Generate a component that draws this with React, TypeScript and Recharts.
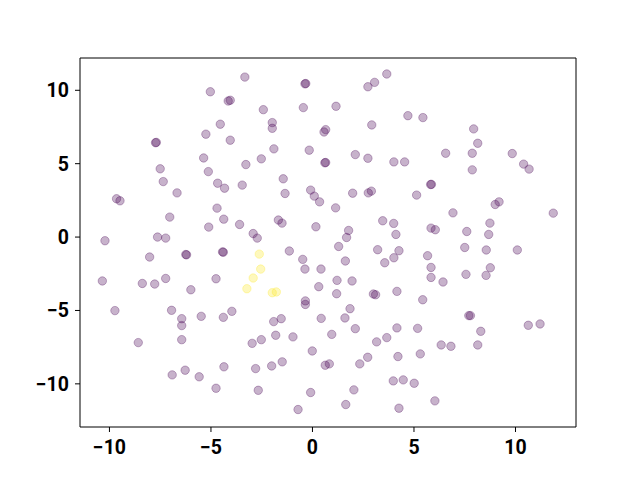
import { ScatterChart, Scatter, XAxis, YAxis, ReferenceLine } from "recharts";

// points, [x, y]
const purplePoints: [number, number][] = [
  [-3.33, 10.9], [-5.03, 9.9], [-4.15, 9.27], [-4.05, 9.32], [-4.54, 7.69], [-5.25, 7.01],
  [-4.05, 6.6], [-7.73, 6.43], [-7.69, 6.45], [-5.36, 5.39], [-3.28, 4.94], [-7.5, 4.65],
  [-5.13, 4.46], [-7.35, 3.78], [-4.67, 3.67], [-4.33, 3.33], [-3.46, 3.54], [-6.67, 3.01],
  [-9.65, 2.61], [-9.48, 2.47], [-4.7, 1.97], [-7.03, 1.36], [-4.37, 1.22], [-5.11, 0.68],
  [-3.59, 0.86], [-10.22, -0.25], [-7.63, 0], [-7.23, -0.07],
  [-0.37, 10.44], [-0.33, 10.46], [2.73, 10.24], [3.06, 10.54], [3.66, 11.11], [-2.42, 8.68],
  [-0.45, 8.82], [1.16, 8.91], [4.7, 8.27], [-1.98, 7.8], [-1.98, 7.41], [0.57, 7.16],
  [0.65, 7.32], [2.92, 7.64], [-1.9, 6.01], [-0.16, 5.92], [-2.52, 5.33], [0.61, 5.06],
  [0.65, 5.08], [2.11, 5.62], [2.73, 5.37], [4.01, 5.12], [4.54, 5.12], [-1.44, 3.97],
  [-1.35, 2.97], [-0.09, 3.2], [0.09, 2.79], [0.35, 2.4], [1.14, 1.99], [1.98, 2.99],
  [2.75, 3.01], [2.9, 3.13], [5.13, 2.86], [-1.68, 1.16], [-1.5, 0.95], [0.17, 0.7],
  [-2.92, 0.24], [-2.72, -0.07], [1.78, 0.45], [1.68, -0.03], [3.46, 1.11], [4.0, 0.93],
  [4.11, 0.18], [1.29, -0.64],
  [5.44, 8.14], [7.94, 7.37], [8.14, 6.39], [6.56, 5.71], [7.87, 5.71], [9.84, 5.69],
  [10.4, 4.97], [10.67, 4.63], [7.87, 4.58], [5.82, 3.58], [5.86, 3.59], [9.0, 2.22],
  [9.19, 2.4], [6.92, 1.65], [11.86, 1.63], [5.84, 0.61], [6.05, 0.5], [7.6, 0.38],
  [8.74, 0.95], [8.68, 0.18],
  [-8.02, -1.36], [-6.24, -1.19], [-6.2, -1.21], [-4.43, -1.01], [-4.39, -1.03], [-10.35, -2.99],
  [-8.38, -3.16], [-7.77, -3.2], [-7.23, -2.82], [-5.99, -3.59], [-4.75, -2.84], [-9.73, -5.01],
  [-6.94, -4.99], [-6.44, -5.56], [-6.44, -6.03], [-5.48, -5.4], [-4.39, -5.47], [-3.97, -5.06],
  [-8.58, -7.19], [-6.44, -6.99], [-6.91, -9.39], [-6.27, -9.07], [-5.58, -9.52], [-4.36, -8.84],
  [-4.75, -10.3],
  [-1.14, -0.95], [-0.48, -1.52], [-0.37, -2.18], [0.42, -2.18], [1.62, -1.63], [0.31, -3.38],
  [1.21, -2.95], [1.95, -2.99], [1.19, -3.86], [-0.35, -4.35], [-0.35, -4.59], [3.0, -3.88],
  [3.11, -3.93], [3.21, -0.86], [3.56, -1.75], [4.01, -1.41], [4.26, -0.93], [4.16, -3.7],
  [1.85, -4.88], [0.43, -5.54], [1.6, -5.51], [-1.91, -5.76], [-1.54, -5.56], [2.11, -6.24],
  [4.16, -6.19], [5.18, -6.22], [-2.97, -7.24], [-2.52, -6.99], [-1.81, -6.69], [-0.96, -6.8],
  [0.95, -6.63], [3.16, -7.14], [3.66, -6.85], [-0.01, -7.76], [-2.8, -8.96], [-2.01, -8.78],
  [-1.49, -8.5], [0.63, -8.73], [0.83, -8.64], [2.33, -8.64], [2.72, -8.19], [4.21, -8.14],
  [3.98, -9.8], [4.47, -9.73], [5.01, -9.96], [-2.67, -10.44], [-0.09, -10.59], [2.04, -10.41],
  [-0.71, -11.75], [1.64, -11.41], [4.26, -11.66],
  [5.67, -1.27], [7.5, -0.71], [8.56, -0.88], [10.09, -0.88], [5.84, -2.07], [5.84, -2.75],
  [6.43, -3.06], [7.56, -2.54], [8.76, -2.09], [8.55, -2.61], [5.43, -4.27], [7.7, -5.35],
  [7.78, -5.35], [8.29, -6.42], [10.63, -6.01], [11.21, -5.92], [6.34, -7.35], [6.82, -7.44],
  [8.14, -7.35], [5.31, -7.96], [6.03, -11.16],
];

const yellowPoints: [number, number][] = [
  [-3.23, -3.52], [-2.92, -2.79], [-2.62, -1.16], [-2.55, -2.18], [-1.98, -3.79], [-1.78, -3.74],
];

const xTicks = [-10, -5, 0, 5, 10];
const yTicks = [-10, -5, 0, 5, 10];
const xDomain = [-11.45, 12.98];
const yDomain = [-12.94, 12.2];

const purple = "#440154";
const yellow = "#fde725";

const fmt = (v: number) => (v < 0 ? "\u2212" + Math.abs(v) : String(v));

const tickStyle = { fill: "#000", fontSize: 19.5, fontWeight: 700, fontFamily: "Roboto" };

const dot = (color: string) => (props: any) => (
  <circle
    cx={props.cx}
    cy={props.cy}
    r={4.2}
    fill={color}
    fillOpacity={0.3}
    stroke={color}
    strokeOpacity={0.3}
    strokeWidth={1}
  />
);

export default function App() {
  const purpleData = purplePoints.map(([x, y]) => ({ x, y }));
  const yellowData = yellowPoints.map(([x, y]) => ({ x, y }));
  return (
    <div style={{ position: "absolute", left: 0, top: 0, width: 640, height: 480, background: "#fff" }}>
      <ScatterChart width={640} height={480} margin={{ top: 58, right: 64, bottom: 0, left: 0 }}>
        <XAxis
          type="number"
          dataKey="x"
          domain={xDomain}
          ticks={xTicks}
          tickFormatter={fmt}
          allowDataOverflow
          height={53}
          tick={tickStyle}
          tickSize={5}
          tickMargin={8}
          stroke="#000"
        />
        <YAxis
          type="number"
          dataKey="y"
          domain={yDomain}
          ticks={yTicks}
          tickFormatter={fmt}
          allowDataOverflow
          width={80}
          tick={tickStyle}
          tickSize={5}
          tickMargin={6}
          stroke="#000"
        />
        {/* top and right spines */}
        <ReferenceLine y={yDomain[1]} stroke="#000" strokeWidth={1} />
        <ReferenceLine x={xDomain[1]} stroke="#000" strokeWidth={1} />
        <Scatter data={purpleData} shape={dot(purple)} isAnimationActive={false} />
        <Scatter data={yellowData} shape={dot(yellow)} isAnimationActive={false} />
      </ScatterChart>
    </div>
  );
}
